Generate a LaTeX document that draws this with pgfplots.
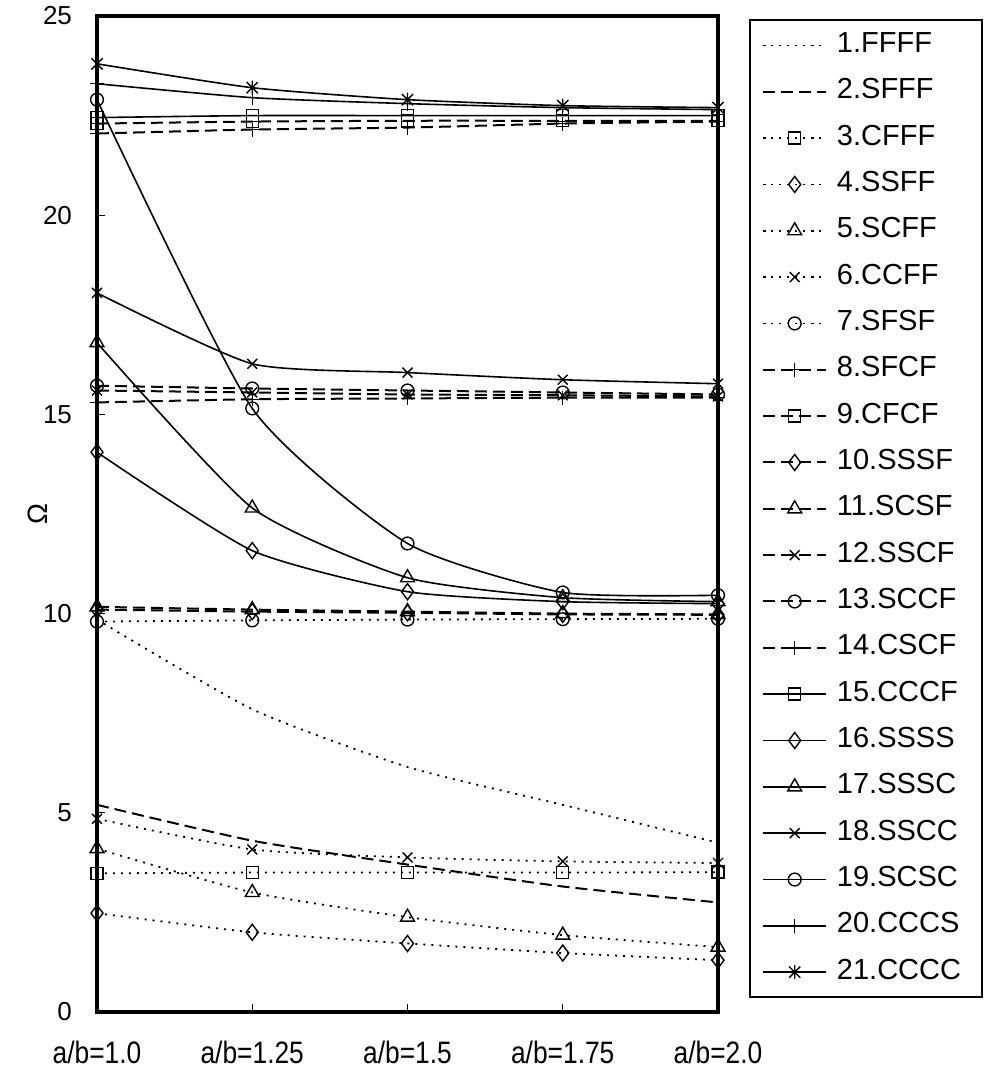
\documentclass[border=0pt]{standalone}
\usepackage{fontspec}
\setmainfont{Liberation Sans}
\newfontfamily\narrowfont[FakeStretch=0.85]{Liberation Sans}
\usepackage{pgfplots}
\pgfplotsset{compat=1.18}
\pgfdeclareplotmark{xstar}{%
 \pgfpathmoveto{\pgfqpoint{-.8\pgfplotmarksize}{-.8\pgfplotmarksize}}%
 \pgfpathlineto{\pgfqpoint{.8\pgfplotmarksize}{.8\pgfplotmarksize}}%
 \pgfpathmoveto{\pgfqpoint{-.8\pgfplotmarksize}{.8\pgfplotmarksize}}%
 \pgfpathlineto{\pgfqpoint{.8\pgfplotmarksize}{-.8\pgfplotmarksize}}%
 \pgfpathmoveto{\pgfqpoint{0pt}{-\pgfplotmarksize}}%
 \pgfpathlineto{\pgfqpoint{0pt}{\pgfplotmarksize}}%
 \pgfusepathqstroke}
\pgfplotsset{
 dotsty/.style={black, line width=0.9pt, dash pattern=on 1pt off 3pt, smooth, tension=0.35},
 dashsty/.style={black, line width=1pt, dash pattern=on 6pt off 3pt, smooth, tension=0.35},
 solsty/.style={black, line width=0.8pt, smooth, tension=0.35},
 mk/.style 2 args={mark=#1, mark size=#2, mark options={solid, fill=white, line width=0.7pt}},
}
\begin{document}
\begin{tikzpicture}
\begin{axis}[
 at={(0,0)}, anchor=south west,
 scale only axis, width=310.5pt, height=498pt,
 xmin=1, xmax=2, ymin=0, ymax=25,
 xtick={1,1.25,1.5,1.75,2},
 xticklabels={a/b=1.0,a/b=1.25,a/b=1.5,a/b=1.75,a/b=2.0},
 ytick={0,5,10,15,20,25},
 xtick pos=bottom, ytick pos=left,
 tick align=inside, major tick length=4pt,
 axis line style={line width=1.8pt},
 tick style={line width=0.6pt, black},
 xticklabel style={font=\narrowfont\fontsize{15.5}{17}\selectfont, yshift=-11pt},
 yticklabel style={font=\fontsize{13}{15}\selectfont, xshift=-9pt},
 /pgf/number format/assume math mode=true,
 ylabel={Ω},
 ylabel style={font=\fontsize{14}{16}\selectfont, at={(axis description cs:-0.095,0.5)}, anchor=center},
 clip=false,
 legend cell align=left,
 legend style={draw=none, fill=none, at={(1,1)}, anchor=north west, xshift=22pt, yshift=-8pt,
   inner sep=0pt, font=\fontsize{14.5}{16}\selectfont, row sep=10.17pt,
   nodes={inner sep=0pt, text height=10pt, text depth=3pt},
   /tikz/every odd column/.append style={column sep=5pt}},
 legend image code/.code={\draw[mark repeat=2, mark phase=2, #1] plot coordinates {(0cm,0cm) (0.55cm,0cm) (1.1cm,0cm)};},
]
\addplot[dotsty] coordinates {(1,9.85)(1.25,7.6)(1.5,6.15)(1.75,5.2)(2,4.25)};
\addlegendentry{1.FFFF}
\addplot[dashsty] coordinates {(1,5.2)(1.25,4.3)(1.5,3.7)(1.75,3.15)(2,2.75)};
\addlegendentry{2.SFFF}
\addplot[dotsty, mk={square}{3pt}] coordinates {(1,3.48)(1.25,3.5)(1.5,3.5)(1.75,3.5)(2,3.51)};
\addlegendentry{3.CFFF}
\addplot[dotsty, mk={diamond}{4pt}] coordinates {(1,2.48)(1.25,2.0)(1.5,1.72)(1.75,1.48)(2,1.30)};
\addlegendentry{4.SSFF}
\addplot[dotsty, mk={triangle}{4pt}] coordinates {(1,4.1)(1.25,3.0)(1.5,2.38)(1.75,1.93)(2,1.63)};
\addlegendentry{5.SCFF}
\addplot[dotsty, mk={x}{3.5pt}] coordinates {(1,4.85)(1.25,4.08)(1.5,3.88)(1.75,3.78)(2,3.74)};
\addlegendentry{6.CCFF}
\addplot[dotsty, mk={o}{3.2pt}] coordinates {(1,9.8)(1.25,9.83)(1.5,9.85)(1.75,9.86)(2,9.87)};
\addlegendentry{7.SFSF}
\addplot[dashsty, mk={+}{3.5pt}] coordinates {(1,15.3)(1.25,15.38)(1.5,15.4)(1.75,15.42)(2,15.42)};
\addlegendentry{8.SFCF}
\addplot[dashsty, mk={square}{3pt}] coordinates {(1,22.3)(1.25,22.35)(1.5,22.37)(1.75,22.37)(2,22.37)};
\addlegendentry{9.CFCF}
\addplot[dashsty, mk={diamond}{4pt}] coordinates {(1,10.1)(1.25,10.05)(1.5,10.02)(1.75,9.98)(2,9.97)};
\addlegendentry{10.SSSF}
\addplot[dashsty, mk={triangle}{4pt}] coordinates {(1,10.17)(1.25,10.1)(1.5,10.05)(1.75,10.0)(2,9.98)};
\addlegendentry{11.SCSF}
\addplot[dashsty, mk={x}{3.5pt}] coordinates {(1,15.6)(1.25,15.55)(1.5,15.5)(1.75,15.48)(2,15.45)};
\addlegendentry{12.SSCF}
\addplot[dashsty, mk={o}{3.2pt}] coordinates {(1,15.72)(1.25,15.65)(1.5,15.6)(1.75,15.55)(2,15.5)};
\addlegendentry{13.SCCF}
\addplot[dashsty, mk={+}{3.5pt}] coordinates {(1,22.05)(1.25,22.15)(1.5,22.2)(1.75,22.3)(2,22.35)};
\addlegendentry{14.CSCF}
\addplot[solsty, mk={square}{3pt}] coordinates {(1,22.45)(1.25,22.5)(1.5,22.5)(1.75,22.5)(2,22.5)};
\addlegendentry{15.CCCF}
\addplot[solsty, mk={diamond}{4pt}] coordinates {(1,14.05)(1.25,11.58)(1.5,10.55)(1.75,10.3)(2,10.25)};
\addlegendentry{16.SSSS}
\addplot[solsty, mk={triangle}{4pt}] coordinates {(1,16.8)(1.25,12.65)(1.5,10.9)(1.75,10.4)(2,10.3)};
\addlegendentry{17.SSSC}
\addplot[solsty, mk={x}{3.5pt}] coordinates {(1,18.05)(1.25,16.27)(1.5,16.05)(1.75,15.87)(2,15.77)};
\addlegendentry{18.SSCC}
\addplot[solsty, mk={o}{3.2pt}] coordinates {(1,22.9)(1.25,15.15)(1.5,11.76)(1.75,10.53)(2,10.46)};
\addlegendentry{19.SCSC}
\addplot[solsty, mk={+}{3.5pt}] coordinates {(1,23.3)(1.25,22.95)(1.5,22.8)(1.75,22.7)(2,22.65)};
\addlegendentry{20.CCCS}
\addplot[solsty, mk={xstar}{3.5pt}] coordinates {(1,23.8)(1.25,23.2)(1.5,22.9)(1.75,22.75)(2,22.7)};
\addlegendentry{21.CCCC}
\end{axis}
\draw[line width=0.6pt] (326.5pt,7.5pt) rectangle (442.5pt,496pt);
\pgfresetboundingbox
\path (-48.5pt,-30pt) rectangle (443.5pt,506pt);
\end{tikzpicture}
\end{document}
